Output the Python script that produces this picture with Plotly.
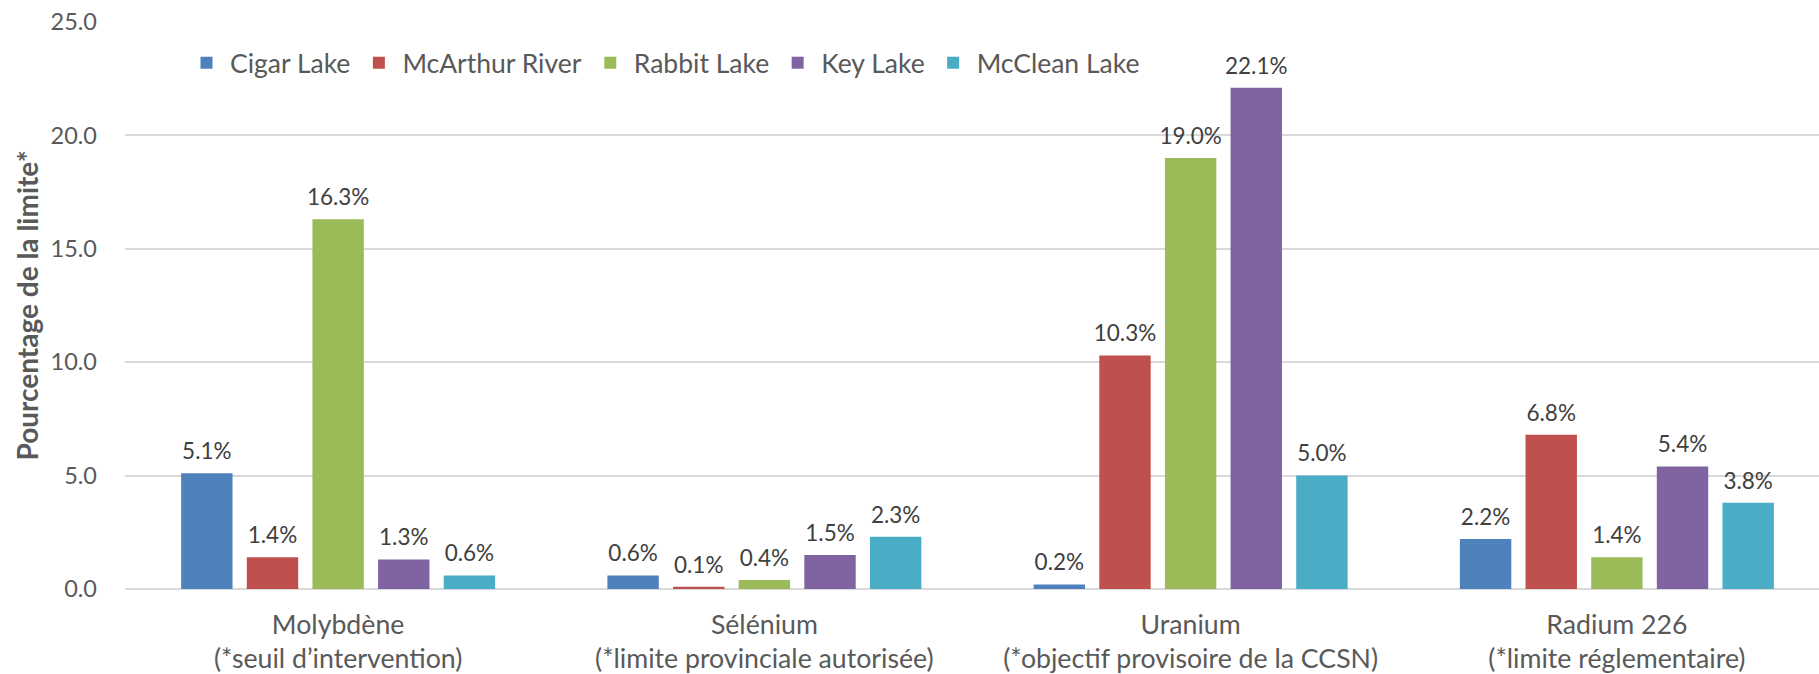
import plotly.graph_objects as go

categories = [
    "Molybdène<br>(*seuil d’intervention)",
    "Sélénium<br>(*limite provinciale autorisée)",
    "Uranium<br>(*objectif provisoire de la CCSN)",
    "Radium 226<br>(*limite réglementaire)",
]
cigar_lake = [5.1, 0.6, 0.2, 2.2]
mcarthur_river = [1.4, 0.1, 10.3, 6.8]
rabbit_lake = [16.3, 0.4, 19.0, 1.4]
key_lake = [1.3, 1.5, 22.1, 5.4]
mcclean_lake = [0.6, 2.3, 5.0, 3.8]

series = [
    ("Cigar Lake", cigar_lake, "#4F81BD"),
    ("McArthur River", mcarthur_river, "#C0504D"),
    ("Rabbit Lake", rabbit_lake, "#9BBB59"),
    ("Key Lake", key_lake, "#8064A2"),
    ("McClean Lake", mcclean_lake, "#4BACC6"),
]

FONT = "Lato"
BARGAP = 0.23
W = 1830
fig = go.Figure()
for i, (name, vals, color) in enumerate(series):
    fig.add_trace(go.Bar(
        name=name, x=categories, y=vals,
        offsetgroup=str(i), alignmentgroup="a",
        legendgroup=str(i),
        marker=dict(color=color, line=dict(width=0)),
        cliponaxis=False,
    ))
for i, (name, vals, color) in enumerate(series):
    fig.add_trace(go.Scatter(
        x=categories, y=vals, mode="markers+text",
        offsetgroup=str(i), alignmentgroup="a",
        legendgroup=str(i),
        marker=dict(size=12, opacity=0, color=color),
        text=[f"{v:.1f}%" for v in vals],
        textposition="top center",
        textfont=dict(family=FONT, size=22.5, color="#404040"),
        showlegend=False, hoverinfo="skip", cliponaxis=False,
    ))

fig.update_layout(
    width=W, height=674,
    margin=dict(l=125, r=0, t=22, b=85, autoexpand=False),
    paper_bgcolor="white", plot_bgcolor="white",
    barmode="group", bargap=BARGAP, bargroupgap=0.217,
    scattermode="group", scattergap=BARGAP,
    font=dict(family=FONT, color="#595959"),
    legend=dict(
        orientation="h", xref="container", yref="container",
        x=183 / W, xanchor="left", y=1 - 63 / 674, yanchor="middle",
        font=dict(family=FONT, size=26.5, color="#595959"),
        bgcolor="rgba(0,0,0,0)",
        itemwidth=37,
        traceorder="grouped", tracegroupgap=13,
    ),
)
fig.update_xaxes(
    showgrid=False, showline=False, ticks="",
    tickfont=dict(family=FONT, size=26.7, color="#595959"),
    ticklabelstandoff=17, automargin=False,
)
fig.update_yaxes(
    range=[0, 25], dtick=5, tickformat=".1f",
    showgrid=True, gridcolor="#D9D9D9", gridwidth=2,
    zeroline=True, zerolinecolor="#D9D9D9", zerolinewidth=2,
    showline=False, ticks="",
    tickfont=dict(family=FONT, size=23.5, color="#595959"),
    ticklabelstandoff=27, automargin=False,
    title=dict(text="<b>Pourcentage de la limite*</b>",
               font=dict(family=FONT, size=28, color="#595959"), standoff=3),
)

fig.write_html(
    "out.html",
    config={"displayModeBar": False},
    post_script="document.body.style.margin='0';"
                "document.body.style.overflow='hidden';"
                "document.documentElement.style.overflow='hidden';",
)
